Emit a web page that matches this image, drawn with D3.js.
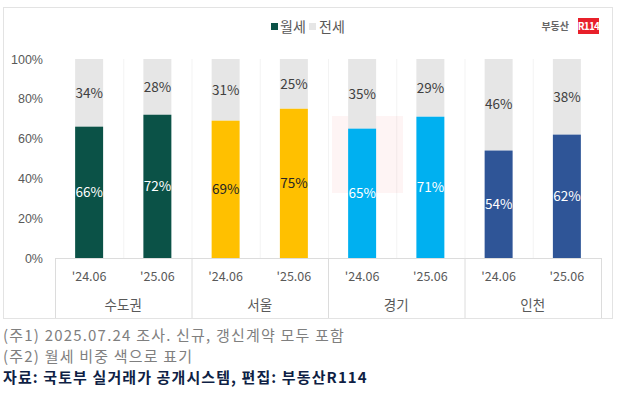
<!DOCTYPE html>
<html>
<head>
<meta charset="utf-8">
<script src="https://cdn.jsdelivr.net/npm/d3@7"></script>
<style>
  body { margin: 0; background: #fff; }
  svg { font-family: "Noto Sans CJK KR", "Noto Sans", sans-serif; display: block; }
  .tick text { fill: #595959; font-size: 12.5px; }
</style>
</head>
<body>
<svg width="618" height="393"></svg>
<script>
// data
var regions = ['수도권', '서울', '경기', '인천'];
var periods = ["'24.06", "'25.06"];
var monthly = [66, 72, 69, 75, 65, 71, 54, 62];   // 월세 share
var jeonse  = [34, 28, 31, 25, 35, 29, 46, 38];   // 전세 share
var yTicks = [0, 20, 40, 60, 80, 100];
var regionColors = ['#0b5247', '#ffc000', '#00b0f0', '#2f5597'];
var labelColors  = ['#ffffff', '#262626', '#ffffff', '#ffffff'];
var notes = ['(주1) 2025.07.24 조사. 신규, 갱신계약 모두 포함', '(주2) 월세 비중 색으로 표기'];
var source = '자료: 국토부 실거래가 공개시스템, 편집: 부동산R114';

var svg = d3.select('svg');

// outer frame
svg.append('rect')
    .attr('x', 3.5).attr('y', 7.5)
    .attr('width', 609).attr('height', 311)
    .attr('fill', 'none').attr('stroke', '#e3e3e3');

var plotL = 55, plotR = 601, plotT = 59, plotB = 258;

var x0 = d3.scaleBand().domain(regions).range([plotL, plotR]);
var x1 = d3.scaleBand().domain(periods).range([0, x0.bandwidth()])
    .paddingInner(0.59).paddingOuter(0.295);
var y = d3.scaleLinear().domain([0, 100]).range([plotB, plotT]);

var rows = [];
regions.forEach(function(r, i) {
    periods.forEach(function(p, j) {
        var k = i * periods.length + j;
        rows.push({ region: r, ri: i, period: p, m: monthly[k], j: jeonse[k] });
    });
});

// faint vertical grid between categories
var slot = x0.bandwidth() / periods.length;
svg.append('g').selectAll('line')
    .data(d3.range(1, regions.length * periods.length))
    .enter().append('line')
    .attr('x1', function(d) { return plotL + d * slot + 0.5; })
    .attr('x2', function(d) { return plotL + d * slot + 0.5; })
    .attr('y1', plotT).attr('y2', plotB)
    .attr('stroke', '#f3f3f3');

// faint watermark block
svg.append('rect').attr('x', 332).attr('y', 116).attr('width', 71).attr('height', 77)
    .attr('fill', '#e8202a').attr('opacity', 0.05);

// bars
var bars = svg.append('g').selectAll('g')
    .data(rows).enter().append('g')
    .attr('transform', function(d) { return 'translate(' + (x0(d.region) + x1(d.period)) + ',0)'; });

bars.append('rect')
    .attr('y', function(d) { return y(100); })
    .attr('height', function(d) { return y(100 - d.j) - y(100); })
    .attr('width', x1.bandwidth())
    .attr('fill', '#e6e6e6');

bars.append('rect')
    .attr('y', function(d) { return y(d.m); })
    .attr('height', function(d) { return y(0) - y(d.m); })
    .attr('width', x1.bandwidth())
    .attr('fill', function(d) { return regionColors[d.ri]; });

bars.append('text')
    .attr('x', x1.bandwidth() / 2)
    .attr('y', function(d) { return (y(100) + y(d.m)) / 2; })
    .attr('dy', '0.35em')
    .attr('text-anchor', 'middle')
    .attr('font-size', 13.5)
    .attr('fill', '#404040')
    .text(function(d) { return d.j + '%'; });

bars.append('text')
    .attr('x', x1.bandwidth() / 2)
    .attr('y', function(d) { return (y(0) + y(d.m)) / 2; })
    .attr('dy', '0.35em')
    .attr('text-anchor', 'middle')
    .attr('font-size', 13.5)
    .attr('fill', function(d) { return labelColors[d.ri]; })
    .text(function(d) { return d.m + '%'; });

// y axis
svg.append('g')
    .attr('transform', 'translate(47,0)')
    .call(d3.axisLeft(y).tickValues(yTicks).tickSize(0).tickPadding(4)
        .tickFormat(function(d) { return d + '%'; }))
    .call(function(g) { g.select('.domain').remove(); });

// x axis: baseline + group separators
var ax = svg.append('g');
ax.append('line')
    .attr('x1', plotL).attr('x2', plotR)
    .attr('y1', plotB + 0.5).attr('y2', plotB + 0.5)
    .attr('stroke', '#dcdcdc');
ax.selectAll('.sep')
    .data(regions.concat(['end']))
    .enter().append('line')
    .attr('class', 'sep')
    .attr('x1', function(d, i) { return plotL + i * x0.bandwidth() + 0.5; })
    .attr('x2', function(d, i) { return plotL + i * x0.bandwidth() + 0.5; })
    .attr('y1', plotB).attr('y2', 318)
    .attr('stroke', '#dcdcdc');

ax.selectAll('.per')
    .data(rows).enter().append('text')
    .attr('x', function(d) { return x0(d.region) + x1(d.period) + x1.bandwidth() / 2; })
    .attr('y', 277).attr('dy', '0.35em')
    .attr('text-anchor', 'middle')
    .attr('font-size', 12.5).attr('fill', '#595959')
    .text(function(d) { return d.period; });

ax.selectAll('.reg')
    .data(regions).enter().append('text')
    .attr('x', function(d) { return x0(d) + x0.bandwidth() / 2; })
    .attr('y', 305).attr('dy', '0.35em')
    .attr('text-anchor', 'middle')
    .attr('font-size', 13.5).attr('fill', '#595959')
    .text(function(d) { return d; });

// legend
var legend = svg.append('g');
legend.append('rect').attr('x', 271).attr('y', 23).attr('width', 7).attr('height', 7).attr('fill', regionColors[0]);
legend.append('text').attr('x', 280).attr('y', 27).attr('dy', '0.35em')
    .attr('font-size', 14).attr('fill', '#595959').text('월세');
legend.append('rect').attr('x', 309).attr('y', 23).attr('width', 7).attr('height', 7).attr('fill', '#e6e6e6');
legend.append('text').attr('x', 319).attr('y', 27).attr('dy', '0.35em')
    .attr('font-size', 14).attr('fill', '#595959').text('전세');

// logo
svg.append('text').attr('x', 569).attr('y', 26).attr('dy', '0.35em')
    .attr('text-anchor', 'end').attr('font-size', 10).attr('font-weight', 'bold')
    .attr('fill', '#666').text('부동산');
svg.append('rect').attr('x', 578).attr('y', 18).attr('width', 21).attr('height', 16).attr('fill', '#e8202a');
svg.append('text').attr('x', 588.5).attr('y', 26.5).attr('dy', '0.35em')
    .attr('text-anchor', 'middle').attr('font-size', 10).attr('font-weight', 'bold')
    .attr('letter-spacing', -0.8)
    .attr('fill', '#fff').text('R114');

// footnotes
svg.selectAll('.note')
    .data(notes).enter().append('text')
    .attr('x', 3)
    .attr('y', function(d, i) { return 336 + i * 21; })
    .attr('dy', '0.35em')
    .attr('font-size', 15).attr('letter-spacing', 1.2).attr('fill', '#7f7f7f')
    .text(function(d) { return d; });

svg.append('text')
    .attr('x', 3).attr('y', 378).attr('dy', '0.35em')
    .attr('font-size', 15).attr('letter-spacing', 1.1)
    .attr('font-weight', 'bold').attr('fill', '#0f1f45')
    .text(source);
</script>
</body>
</html>
